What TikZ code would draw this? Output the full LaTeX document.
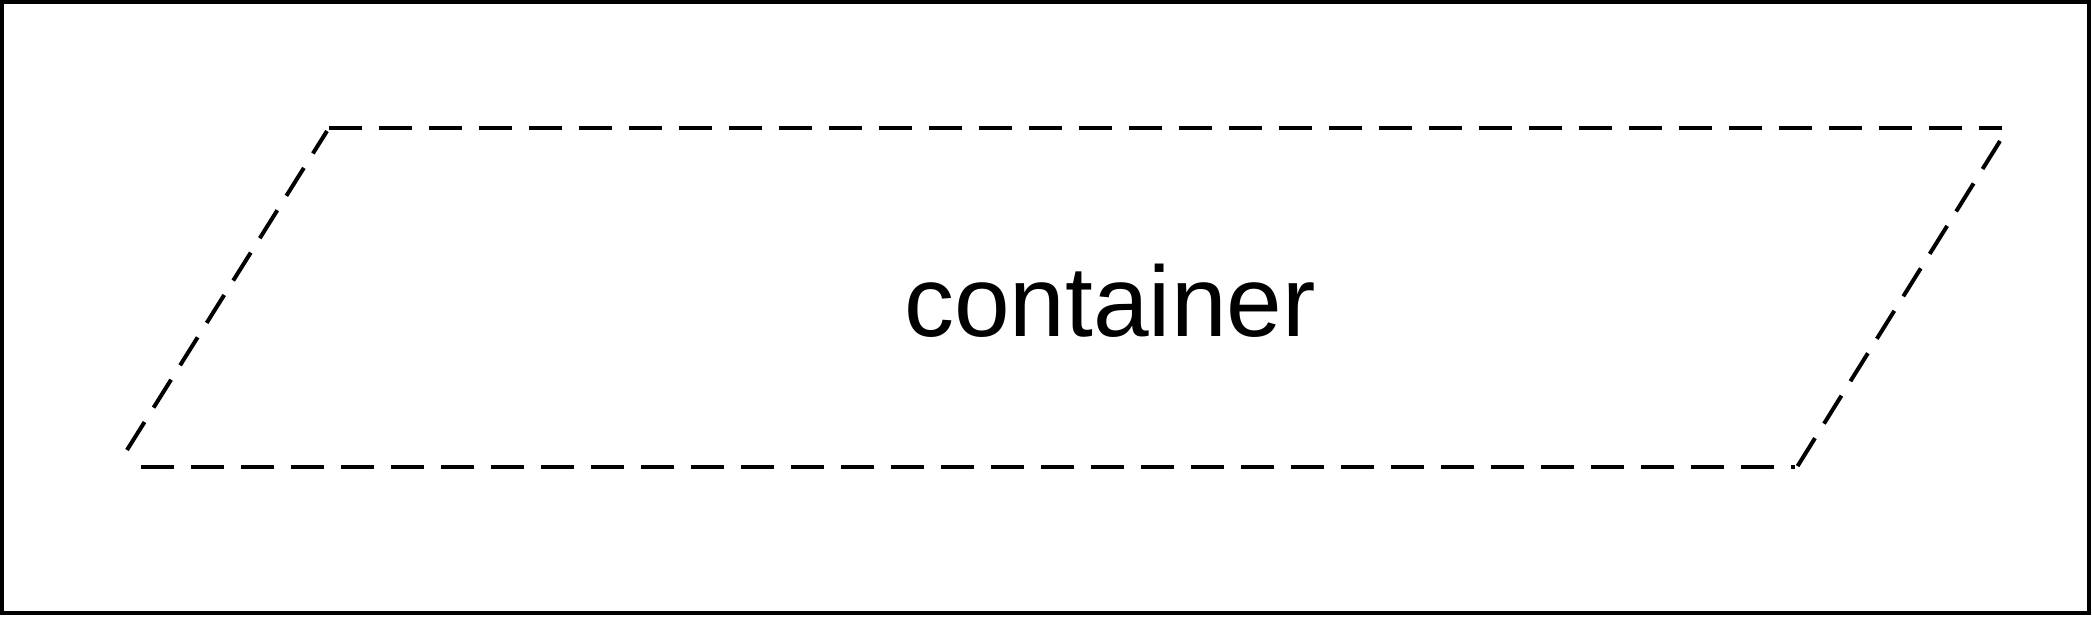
\documentclass[tikz,border=0pt]{standalone}
\usepackage{fontspec}
\setmainfont{Liberation Sans}
\begin{document}
\begin{tikzpicture}[x=0.5pt,y=-0.5pt,
  frameline/.style={line width=2pt},
  dashedge/.style={line width=2pt, dash pattern=on 16.5pt off 8.5pt},
  labeltext/.style={font=\fontsize{50}{60}\selectfont, inner sep=0pt, anchor=base}]
\useasboundingbox (0,0) rectangle (2092,617);
\draw[frameline] (2,2) rectangle (2089,613);
% parallelogram corners
\coordinate (tl) at (329,128);
\coordinate (tr) at (2002,128);
\coordinate (brs) at (1797,467);
\coordinate (rts) at (2000,141);
\coordinate (bl) at (141,467);
\coordinate (br) at (1795,467);
\coordinate (lbs) at (127,450);
\coordinate (lts) at (327,131);
\draw[dashedge] (tl) -- (tr);
\draw[dashedge] (rts) -- (brs);
\draw[dashedge] (bl) -- (br);
\draw[dashedge] (lbs) -- (lts);
\node[labeltext] (lbl) at (1110,336) {container};
\end{tikzpicture}
\end{document}
